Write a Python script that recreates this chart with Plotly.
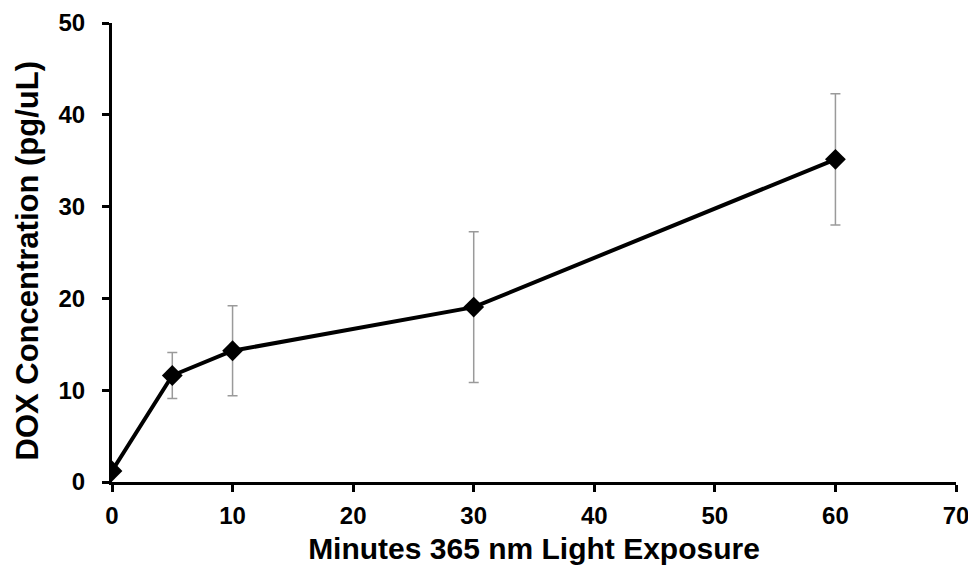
import plotly.graph_objects as go

minutes = [0, 5, 10, 30, 60]
dox_conc = [1.2, 11.6, 14.3, 19.05, 35.15]
dox_err = [0.0, 2.5, 4.9, 8.2, 7.15]

x_title = "Minutes 365 nm Light Exposure"
y_title = "DOX Concentration (pg/uL)"

FONT = "Liberation Sans, Arial, sans-serif"

fig = go.Figure()
fig.add_trace(go.Scatter(
    x=minutes, y=dox_conc,
    mode="lines+markers",
    line=dict(color="black", width=4),
    marker=dict(symbol="diamond", size=16, color="black"),
    error_y=dict(type="data", array=dox_err, visible=True,
                 color="#9a9a9a", thickness=1.5, width=5),
    showlegend=False,
))

axis_common = dict(
    showline=True, linecolor="black", linewidth=3,
    ticks="outside", tickcolor="black", tickwidth=3, ticklen=7,
    showgrid=False, zeroline=False, automargin=False,
    tickfont=dict(family=FONT, size=24, color="black", weight="bold"),
)

fig.update_layout(
    width=976, height=570,
    margin=dict(l=104, r=28, t=15, b=96),
    plot_bgcolor="white", paper_bgcolor="white",
    font=dict(family=FONT, color="black"),
    xaxis=dict(range=[0, 70], tick0=0, dtick=10, ticklabelstandoff=3,
               title=dict(text=x_title, standoff=11,
                          font=dict(family=FONT, size=30, color="black", weight="bold")),
               **axis_common),
    yaxis=dict(range=[0, 50], tick0=0, dtick=10, ticklabelstandoff=12,
               **axis_common),
    annotations=[dict(
        text=y_title, textangle=-90,
        xref="paper", yref="paper", x=0, y=0.5,
        xanchor="center", yanchor="middle",
        xshift=-85, yshift=-8, showarrow=False,
        font=dict(family=FONT, size=31, color="black", weight="bold"),
    )],
)

fig.write_html("out.html")
